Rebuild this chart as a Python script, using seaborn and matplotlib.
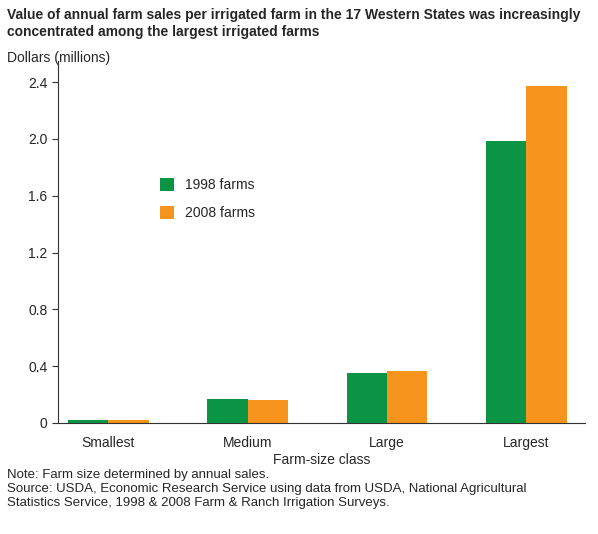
import matplotlib
matplotlib.use("Agg")
import matplotlib.pyplot as plt
import seaborn as sns
import pandas as pd

categories = ["Smallest", "Medium", "Large", "Largest"]
sales_1998 = [0.02, 0.17, 0.35, 1.985]
sales_2008 = [0.02, 0.165, 0.365, 2.375]
series = ["1998 farms", "2008 farms"]

df = pd.DataFrame({
    "cat": categories * 2,
    "val": sales_1998 + sales_2008,
    "yr": [series[0]] * 4 + [series[1]] * 4,
})

sns.set_style("white")
plt.rcParams["font.family"] = ["Liberation Sans", "DejaVu Sans"]
fig = plt.figure(figsize=(5.98, 5.34), dpi=100)
ax = fig.add_axes([0.097, 0.208, 0.881, 0.678])
sns.barplot(data=df, x="cat", y="val", hue="yr", order=categories,
            palette=["#0a9444", "#f7941d"], width=0.58, gap=0, ax=ax,
            saturation=1, errorbar=None, linewidth=0)
ax.set_xlim(-0.36, 3.42)
ax.set_ylim(0, 2.55)
ax.set_yticks([0, 0.4, 0.8, 1.2, 1.6, 2.0, 2.4])
ax.set_yticklabels(["0", "0.4", "0.8", "1.2", "1.6", "2.0", "2.4"])
ax.tick_params(axis="y", left=True, length=4, labelsize=10, color="#333")
ax.tick_params(axis="x", bottom=False, labelsize=10, pad=6)
for s in ["top", "right"]:
    ax.spines[s].set_visible(False)
for s in ["left", "bottom"]:
    ax.spines[s].set_color("#333")
ax.set_xlabel("Farm-size class", fontsize=10, labelpad=2)
ax.set_ylabel("")
ax.legend(loc="upper left", bbox_to_anchor=(0.17, 0.71), frameon=False,
          fontsize=10, handlelength=1, handleheight=1, labelspacing=1)
fig.text(0.012, 0.985, "Value of annual farm sales per irrigated farm in the 17 Western States was increasingly\nconcentrated among the largest irrigated farms",
         fontsize=10, fontweight="bold", va="top", linespacing=1.3)
fig.text(0.012, 0.905, "Dollars (millions)", fontsize=10, va="top")
fig.text(0.012, 0.122, "Note: Farm size determined by annual sales.\nSource: USDA, Economic Research Service using data from USDA, National Agricultural\nStatistics Service, 1998 & 2008 Farm & Ranch Irrigation Surveys.",
         fontsize=9.5, va="top", linespacing=1.25)
fig.savefig("out.png", dpi=100)
